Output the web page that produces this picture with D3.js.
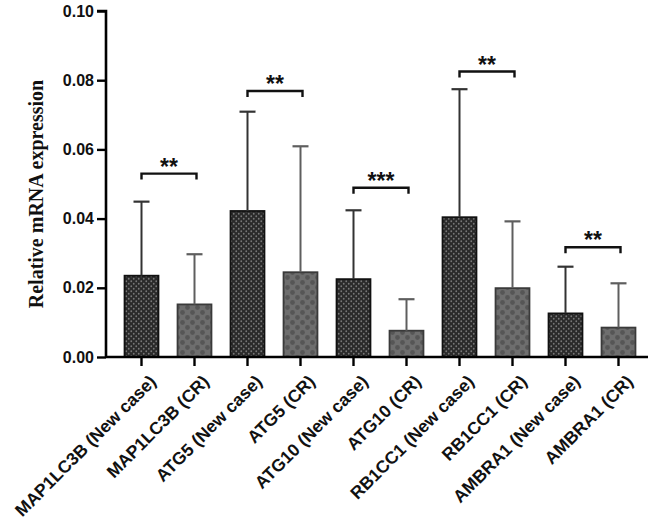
<!DOCTYPE html>
<html>
<head>
<meta charset="utf-8">
<script src="https://cdn.jsdelivr.net/npm/d3@7"></script>
<style>
  body { margin: 0; background: #fff; }
  svg { display: block; }
</style>
</head>
<body>
<svg id="root"></svg>
<script>
const categories = ["MAP1LC3B (New case)", "MAP1LC3B (CR)", "ATG5 (New case)", "ATG5 (CR)",
  "ATG10 (New case)", "ATG10 (CR)", "RB1CC1 (New case)", "RB1CC1 (CR)",
  "AMBRA1 (New case)", "AMBRA1 (CR)"]
const groups = ["new", "cr", "new", "cr", "new", "cr", "new", "cr", "new", "cr"]
const means = [0.0235, 0.0152, 0.0422, 0.0245, 0.0225, 0.0076, 0.0404, 0.0199, 0.0126, 0.0085]
const sds = [0.0214, 0.0145, 0.0287, 0.0364, 0.0199, 0.0091, 0.0370, 0.0193, 0.0135, 0.0128]
const yTicks = [0, 0.02, 0.04, 0.06, 0.08, 0.10]
// significance brackets: left bar, right bar, label, height
const sigLeft = [0, 2, 4, 6, 8]
const sigRight = [1, 3, 5, 7, 9]
const sigLabels = ["**", "**", "***", "**", "**"]
const sigHeights = [0.053, 0.0769, 0.0489, 0.0825, 0.0317]

const width = 661
const height = 520

const svg = d3.select("#root").attr("width", width).attr("height", height)
const defs = svg.append("defs")

// dotted fill for new case bars
const pNew = defs.append("pattern").attr("id", "pNew")
  .attr("patternUnits", "userSpaceOnUse").attr("width", 5).attr("height", 5)
pNew.append("rect").attr("width", 5).attr("height", 5).attr("fill", "#2a2a2a")
pNew.append("circle").attr("cx", 1.25).attr("cy", 1.25).attr("r", 0.9).attr("fill", "#777")
pNew.append("circle").attr("cx", 3.75).attr("cy", 3.75).attr("r", 0.9).attr("fill", "#777")

// diamond-ish fill for CR bars
const pCR = defs.append("pattern").attr("id", "pCR")
  .attr("patternUnits", "userSpaceOnUse").attr("width", 10).attr("height", 10)
pCR.append("rect").attr("width", 10).attr("height", 10).attr("fill", "#6e6e6e")
pCR.append("circle").attr("cx", 2.5).attr("cy", 2.5).attr("r", 2.4).attr("fill", "#565656")
pCR.append("circle").attr("cx", 7.5).attr("cy", 7.5).attr("r", 2.4).attr("fill", "#565656")

const x = d3.scaleBand()
  .domain(categories)
  .range([115, 645])
  .paddingInner(0.36)
  .paddingOuter(0.18)

const y = d3.scaleLinear().domain([0, 0.10]).range([357, 11])

const axisX0 = 106, axisX1 = 648

// y axis
const yAxis = svg.append("g")
  .attr("transform", `translate(${axisX0},0)`)
  .call(d3.axisLeft(y).tickValues(yTicks).tickFormat(d3.format(".2f")).tickSize(9).tickPadding(3))
yAxis.select(".domain").attr("stroke", "#000").attr("stroke-width", 2.6)
  .attr("d", `M0,${y(0)}V${y(0.10)}H-9`)
yAxis.selectAll(".tick line").attr("stroke", "#000").attr("stroke-width", 2.4)
yAxis.selectAll(".tick text")
  .attr("font-family", "Liberation Sans, Arial, sans-serif")
  .attr("font-weight", "bold")
  .attr("font-size", 16)
  .attr("fill", "#111")

svg.append("text")
  .attr("transform", `translate(43,${(y(0) + y(0.10)) / 2 + 10}) rotate(-90)`)
  .attr("text-anchor", "middle")
  .attr("font-family", "Liberation Serif, Times New Roman, serif")
  .attr("font-weight", "bold")
  .attr("font-size", 20)
  .attr("fill", "#111")
  .text("Relative mRNA expression")

// bars
const bars = svg.append("g")
bars.selectAll("rect")
  .data(categories)
  .join("rect")
  .attr("x", d => x(d))
  .attr("y", (d, i) => y(means[i]))
  .attr("width", x.bandwidth())
  .attr("height", (d, i) => y(0) - y(means[i]))
  .attr("fill", (d, i) => groups[i] === "new" ? "url(#pNew)" : "url(#pCR)")
  .attr("stroke", (d, i) => groups[i] === "new" ? "#111" : "#3a3a3a")
  .attr("stroke-width", 1.8)

// error bars (upper only)
const err = svg.append("g")
categories.forEach((c, i) => {
  const cx = x(c) + x.bandwidth() / 2
  const col = groups[i] === "new" ? "#333" : "#5e5e5e"
  err.append("line")
    .attr("x1", cx).attr("x2", cx)
    .attr("y1", y(means[i])).attr("y2", y(means[i] + sds[i]))
    .attr("stroke", col).attr("stroke-width", 2)
  err.append("line")
    .attr("x1", cx - 8).attr("x2", cx + 8)
    .attr("y1", y(means[i] + sds[i])).attr("y2", y(means[i] + sds[i]))
    .attr("stroke", col).attr("stroke-width", 2.2)
})

// x axis
const xAxis = svg.append("g")
xAxis.append("line")
  .attr("x1", axisX0).attr("x2", axisX1)
  .attr("y1", y(0)).attr("y2", y(0))
  .attr("stroke", "#000").attr("stroke-width", 2.6)
xAxis.selectAll(".xt")
  .data(categories)
  .join("line")
  .attr("class", "xt")
  .attr("x1", d => x(d) + x.bandwidth() / 2)
  .attr("x2", d => x(d) + x.bandwidth() / 2)
  .attr("y1", y(0)).attr("y2", y(0) + 9)
  .attr("stroke", "#000").attr("stroke-width", 2.4)
xAxis.selectAll(".xl")
  .data(categories)
  .join("text")
  .attr("class", "xl")
  .attr("transform", d => `translate(${x(d) + x.bandwidth() / 2 + 7},${y(0) + 17}) rotate(-45)`)
  .attr("text-anchor", "end")
  .attr("dy", "0.7em")
  .attr("font-family", "Liberation Sans, Arial, sans-serif")
  .attr("font-weight", "bold")
  .attr("font-size", 17.5)
  .attr("fill", "#111")
  .text(d => d)

// significance brackets
const sig = svg.append("g")
sigLabels.forEach((lab, k) => {
  const x1 = x(categories[sigLeft[k]]) + x.bandwidth() / 2
  const x2 = x(categories[sigRight[k]]) + x.bandwidth() / 2 + 2
  const yy = y(sigHeights[k])
  sig.append("path")
    .attr("d", `M${x1},${yy + 6}V${yy}H${x2}V${yy + 6}`)
    .attr("fill", "none").attr("stroke", "#111").attr("stroke-width", 2.4)
  sig.append("text")
    .attr("x", (x1 + x2) / 2).attr("y", yy + 1)
    .attr("text-anchor", "middle")
    .attr("font-family", "Liberation Sans, Arial, sans-serif")
    .attr("font-weight", "bold")
    .attr("font-size", 23)
    .attr("fill", "#111")
    .text(lab)
})
</script>
</body>
</html>
